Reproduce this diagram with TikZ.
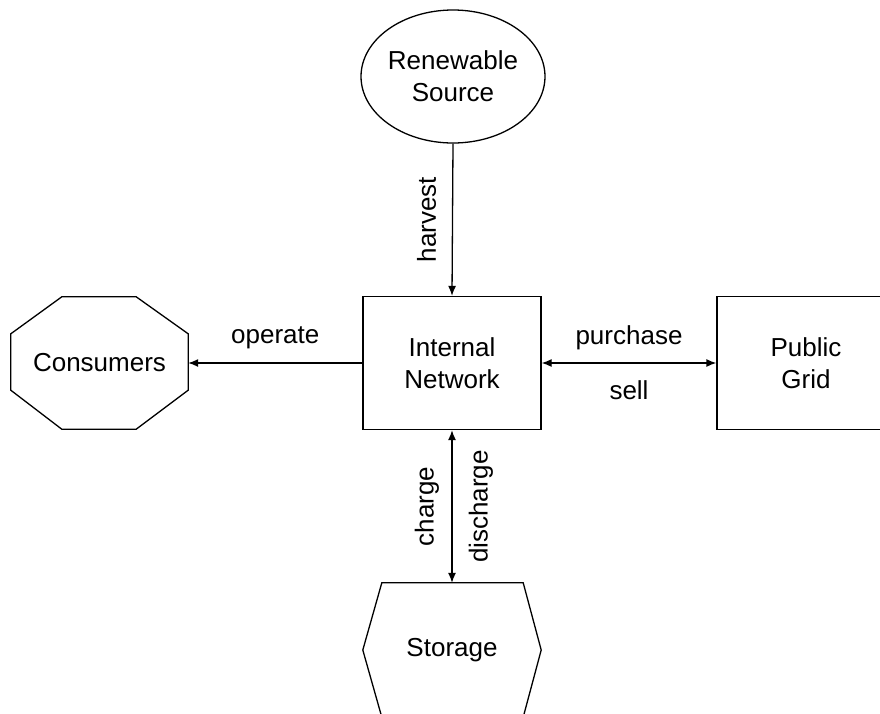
\documentclass[tikz,border=0pt]{standalone}
\usepackage{fontspec}
\setmainfont{Liberation Sans}
\usetikzlibrary{shapes.geometric,arrows.meta,calc}

\begin{document}
\begin{tikzpicture}[x=1pt,y=-1pt,
  every node/.style={font=\fontsize{26}{32}\selectfont, align=center},
  outline/.style={draw, line width=1.3pt},
  flow/.style={line width=1.3pt, -{Latex[length=10pt,width=8pt]}},
  flowboth/.style={line width=1.3pt, {Latex[length=10pt,width=8pt]}-{Latex[length=10pt,width=8pt]}},
  box/.style={outline, rectangle, minimum width=178pt, minimum height=133pt, inner sep=0pt},
  frame/.style={rectangle, minimum width=177pt, minimum height=132pt, inner sep=0pt},
]
\useasboundingbox (0,0) rectangle (880,713);
\clip (0,0) rectangle (880,713);

% main nodes
\node[outline, ellipse, minimum width=180pt, minimum height=133pt, inner sep=0pt]
  (src) at (453,76.5) {Renewable\\Source};
\node[box] (net) at (452,363) {Internal\\Network};
\node[box] (grid) at (806,363) {Public\\Grid};
\node[frame] (cons) at (99.5,363) {Consumers};
\node[frame, minimum width=178pt, minimum height=134pt] (stor) at (452,650) {Storage};

% octagon around the consumers
\draw[line width=1.3pt]
  ($(cons.north west)+(51,0)$) -- ($(cons.north east)+(-52,0)$)
  -- ($(cons.north east)+(0,37)$) -- ($(cons.south east)+(0,-39)$)
  -- ($(cons.south east)+(-52,0)$) -- ($(cons.south west)+(51,0)$)
  -- ($(cons.south west)+(0,-39)$) -- ($(cons.north west)+(0,37)$) -- cycle;

% hexagon around the storage
\draw[line width=1.3pt]
  ($(stor.north west)+(19,0)$) -- ($(stor.north east)+(-18,0)$)
  -- (stor.east) -- ($(stor.south east)+(-18,0)$)
  -- ($(stor.south west)+(19,0)$) -- (stor.west) -- cycle;

% connectors
\draw[flow] (src.south) -- node[midway, rotate=90, yshift=26pt] {harvest} (net.north);
\draw[flow] (net.west) -- node[midway, yshift=25pt] {operate} (cons.east);
\draw[flowboth] (net.east) -- node[midway, yshift=25pt] {purchase}
  node[midway, yshift=-27pt] {sell} (grid.west);
\draw[flowboth] (net.south) -- node[midway, rotate=90, yshift=25pt] {charge}
  node[midway, rotate=90, yshift=-29pt] {discharge} (stor.north);
\end{tikzpicture}
\end{document}
